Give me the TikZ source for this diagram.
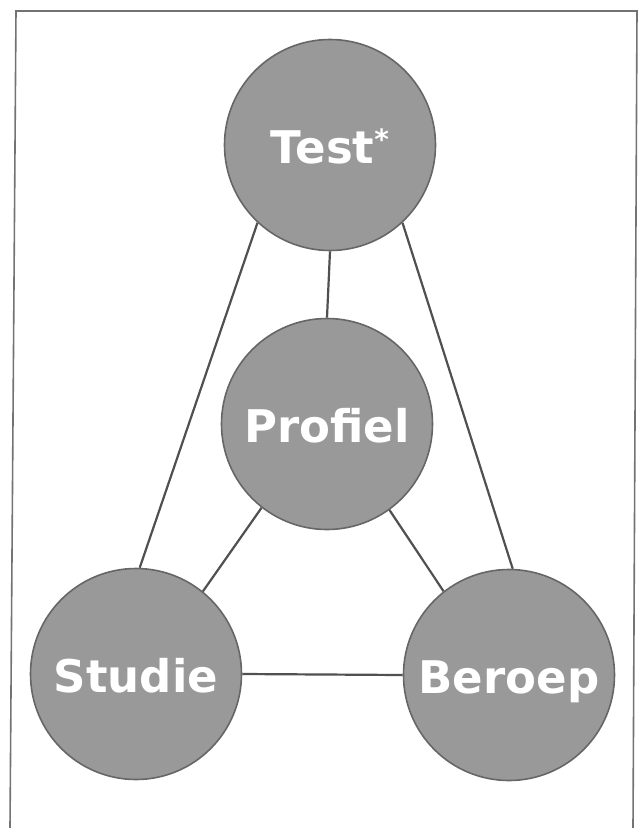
\documentclass[tikz,border=0pt]{standalone}
\usepackage{fontspec}
\newfontfamily\bollenfont{DejaVu Sans}
\definecolor{bolgrijs}{HTML}{999999}
\definecolor{randgrijs}{HTML}{666666}
\definecolor{lijngrijs}{HTML}{505050}
\tikzset{
  bol/.style={circle, draw=randgrijs, line width=1.6pt, fill=bolgrijs,
    minimum size=211pt, inner sep=0pt, text=white,
    font=\bollenfont\bfseries\fontsize{45}{45}\selectfont,
    text height=37pt, text depth=0pt},
  verbinding/.style={draw=lijngrijs, line width=2.2pt}
}
\begin{document}
\begin{tikzpicture}[x=1pt,y=-1pt]
    \useasboundingbox (0,0) rectangle (638,828);
    % kader
    \draw [draw=gray!90!black, line width=1.6pt] (10,828) -- (16,11) -- (637,11) -- (633,828);
    \node [bol] (test) at (330,145) {Test\raisebox{14pt}{\fontsize{28}{28}\selectfont *}};
    \node [bol] (profiel) at (327,424) {Profiel};
    \node [bol] (studie) at (136,674) {Studie};
    \node [bol] (beroep) at (509,675) {Beroep};
    \draw [verbinding] (test.227) -- (studie.88);
    \draw [verbinding] (test.313) -- (beroep.88);
    \draw [verbinding] (test.south) -- (profiel.north);
    \draw [verbinding] (profiel.232) -- (studie.51);
    \draw [verbinding] (profiel.306) -- (beroep.128);
    \draw [verbinding] (studie.east) -- (beroep.west);
\end{tikzpicture}
\end{document}
